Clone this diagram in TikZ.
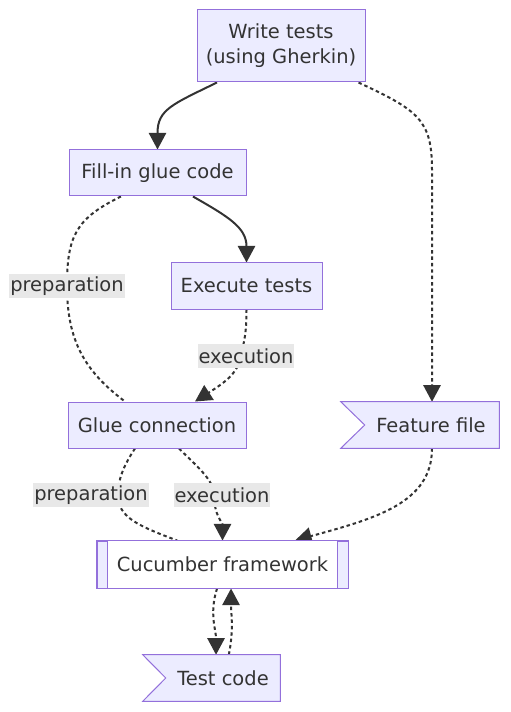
\documentclass[tikz,border=0pt]{standalone}
\usepackage{fontspec}
\setmainfont{DejaVu Sans}
\usetikzlibrary{arrows.meta}
\definecolor{nfill}{HTML}{ECECFF}
\definecolor{nborder}{HTML}{9370DB}
\definecolor{ntext}{HTML}{333333}
\definecolor{lbg}{HTML}{E8E8E8}
\pgfdeclarelayer{bg}
\pgfsetlayers{bg,main}
\begin{document}
\begin{tikzpicture}[x=0.75pt,y=-0.75pt,
  txt/.style={text=ntext, font=\fontsize{14.6}{18.75}\selectfont},
  box/.style={txt, draw=nborder, fill=nfill, line width=0.75pt, inner sep=0pt, align=center},
  shell/.style={inner sep=0pt, minimum height=34.5pt},
  plain/.style={txt, inner sep=0pt},
  lbl/.style={txt, fill=lbg, inner xsep=0.6pt, inner ysep=0pt, minimum height=18pt},
  edge/.style={draw=ntext, line width=1.5pt},
  dot/.style={edge, dash pattern=on 2.6pt off 2.2pt},
  arr/.style={-{Triangle[length=12.5pt,width=13pt]}}
]
\useasboundingbox (0,0) rectangle (510,712);

% nodes
\node[box, minimum width=126pt, minimum height=54pt] (wt) at (281,46) {Write tests\\(using Gherkin)};
\node[box, minimum width=132.75pt, minimum height=34.5pt] (fi) at (157.5,173) {Fill-in glue code};
\node[box, minimum width=113.25pt, minimum height=34.5pt] (ex) at (246.5,286) {Execute tests};
\node[box, minimum width=133.5pt, minimum height=34.5pt] (gl) at (157,425) {Glue connection};

% feature file (flag)
\node[shell, minimum width=118.5pt] (ff) at (420,425) {};
\draw[nborder, fill=nfill, line width=0.75pt] (ff.north west) -- (ff.north east) -- (ff.south east) -- (ff.south west) -- ([xshift=18pt]ff.west) -- cycle;
\node[plain] (fft) at (431,425) {Feature file};

% cucumber framework (subroutine)
\node[shell, minimum width=188.25pt, minimum height=35.25pt, draw=nborder, fill=nfill, line width=0.75pt] (cf) at (222.5,564.5) {};
\fill[white] ([xshift=8.25pt]cf.north west) rectangle ([xshift=-8.25pt]cf.south east);
\draw[nborder, line width=0.75pt] (cf.north west) rectangle (cf.south east);
\draw[nborder, line width=0.75pt] ([xshift=8.25pt]cf.north west) -- ([xshift=8.25pt]cf.south west);
\draw[nborder, line width=0.75pt] ([xshift=-8.25pt]cf.north east) -- ([xshift=-8.25pt]cf.south east);
\node[plain] (cft) at (222.5,564.5) {Cucumber framework};

% test code (flag)
\node[shell, minimum width=102.75pt] (tc) at (211.5,678) {};
\draw[nborder, fill=nfill, line width=0.75pt] (tc.north west) -- (tc.north east) -- (tc.south east) -- (tc.south west) -- ([xshift=17.25pt]tc.west) -- cycle;
\node[plain] (tct) at (223,678) {Test code};

% edge labels
\node[lbl] (lp1) at (67,286) {preparation};
\node[lbl] (le1) at (246,356) {execution};
\node[lbl] (lp2) at (91,495) {preparation};
\node[lbl] (le2) at (222,495) {execution};

% path points through labels
\coordinate (p1) at (67,286);
\coordinate (e1) at (241,356);
\coordinate (p2) at (118,495);
\coordinate (e2) at (214,495);
\coordinate (ffin) at ([xshift=9pt]ff.north);

\begin{pgfonlayer}{bg}
% Write tests -> Fill-in glue code
\draw[edge, arr] ([xshift=-48pt]wt.south) .. controls +(-45,22) and +(0,-40) .. (fi.north);
% Write tests -> Feature file
\draw[dot, arr] ([xshift=-5.25pt]wt.south east) .. controls +(60,28) and +(0,-50) .. (ffin |- 0,170) -- (ffin);
% Fill-in -> Execute tests
\draw[edge, arr] ([xshift=26.6pt]fi.south) .. controls +(35,20) and +(0,-35) .. (ex.north);
% Fill-in -> Glue (preparation)
\draw[dot] ([xshift=-27.4pt]fi.south) .. controls +(-45,22) and +(0,-50) .. (p1) .. controls +(0,55) and +(-40,-30) .. ([xshift=-24pt]gl.north);
% Execute -> Glue (execution)
\draw[dot, arr] (ex.south) .. controls +(0,25) and +(3,-15) .. (e1) .. controls +(-3,18) and +(28,-18) .. ([xshift=28.5pt]gl.north);
% Glue -> Cucumber (preparation)
\draw[dot] ([xshift=-16.5pt]gl.south) .. controls +(-12,18) and +(0,-15) .. (p2) .. controls +(0,22) and +(-40,-15) .. ([xshift=-34pt]cf.north);
% Glue -> Cucumber (execution)
\draw[dot, arr] ([xshift=16.5pt]gl.south) .. controls +(18,18) and +(0,-15) .. (e2) .. controls +(0,20) and +(0,-18) .. (cf.north);
% Feature file -> Cucumber
\draw[dot, arr] (ffin |- ff.south) .. controls +(0,55) and +(80,-22) .. ([xshift=54.4pt]cf.north);
% Cucumber -> Test code
\draw[dot, arr] ([xshift=-4.1pt]cf.south) .. controls +(-8,25) and +(0,-25) .. ([xshift=3.4pt]tc.north);
% Test code -> Cucumber
\draw[dot, arr] ([xshift=13pt]tc.north) .. controls +(5,-25) and +(0,25) .. ([xshift=6.4pt]cf.south);
\end{pgfonlayer}
\end{tikzpicture}
\end{document}
